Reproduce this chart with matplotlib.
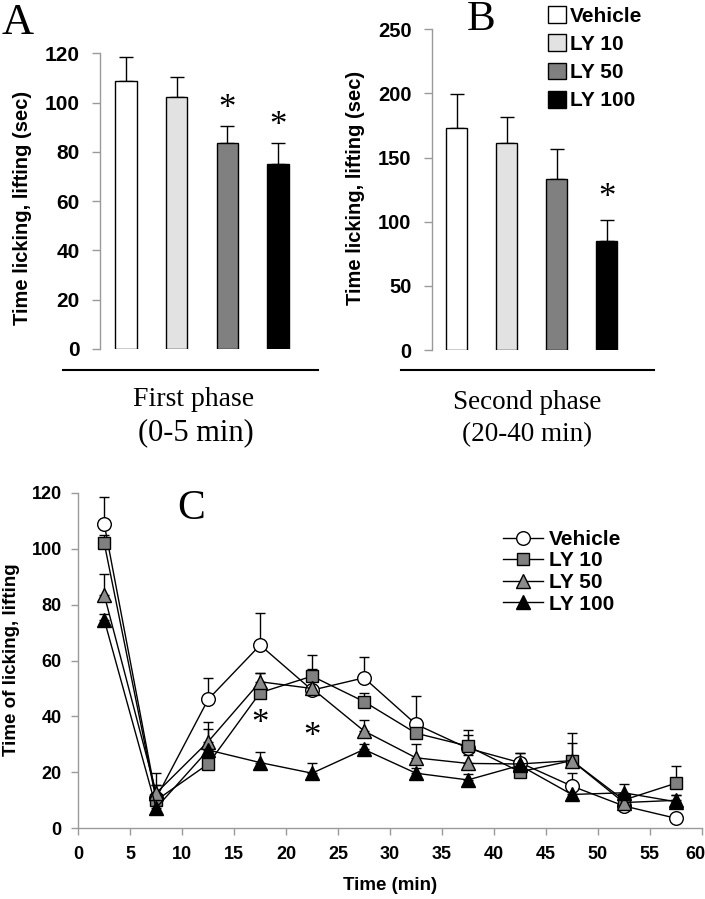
import numpy as np
import matplotlib
matplotlib.use("Agg")
import matplotlib.pyplot as plt
import matplotlib.transforms as mtransforms
from matplotlib.patches import Patch
from matplotlib.lines import Line2D

# ---------------- data ----------------
groups = ["Vehicle", "LY 10", "LY 50", "LY 100"]
bar_colors = ["#ffffff", "#e2e2e2", "#808080", "#000000"]

first_mean = [108.8, 102.1, 83.5, 75.1]
first_err = [9.6, 8.2, 7.1, 8.6]
first_sig = [False, False, True, True]

second_mean = [173.3, 161.6, 133.5, 84.7]
second_err = [26.0, 20.0, 22.9, 16.6]
second_sig = [False, False, False, True]

time = [2.5, 7.5, 12.5, 17.5, 22.5, 27.5, 32.5, 37.5, 42.5, 47.5, 52.5, 57.5]
vehicle = [108.7, 10.8, 46.1, 65.5, 49.4, 53.8, 37.2, 28.6, 23.5, 15.1, 8.0, 3.6]
vehicle_err = [9.9, 8.9, 7.5, 11.6, 7.6, 7.6, 10.2, 6.5, 3.5, 4.6, 2.0, 1.0]
ly10 = [101.9, 10.0, 23.0, 48.5, 54.4, 45.3, 34.0, 29.4, 20.2, 24.2, 10.1, 16.1]
ly10_err = [3.0, 5.5, 3.0, 7.0, 7.6, 3.0, 5.0, 4.0, 2.0, 10.0, 2.0, 6.2]
ly50 = [83.4, 12.6, 31.0, 52.4, 50.0, 34.8, 25.2, 23.2, 23.0, 24.2, 9.2, 10.0]
ly50_err = [7.5, 3.0, 4.4, 3.2, 3.0, 4.0, 4.8, 3.0, 2.0, 6.4, 2.0, 2.0]
ly100 = [74.5, 7.3, 28.0, 23.5, 19.7, 28.2, 19.7, 17.3, 22.5, 12.1, 12.7, 9.5]
ly100_err = [2.0, 2.0, 10.1, 3.9, 3.5, 2.0, 2.0, 2.0, 4.5, 2.0, 3.3, 2.5]
sig_times = [17.5, 22.5]
sig_y = [37.0, 32.4]

x_ticks = list(range(0, 61, 5))

# ---------------- style ----------------
SANS = ["Liberation Sans", "DejaVu Sans"]
SERIF = ["Liberation Serif", "DejaVu Serif"]
GRAY = "#9a9a9a"
STAR_FS = 25

W, H = 705, 899
fig = plt.figure(figsize=(W / 100, H / 100), dpi=100)


def rect(l, t, r, b):
    return [l / W, 1 - b / H, (r - l) / W, (b - t) / H]


def fpt(x, y):
    return x / W, 1 - y / H


def bar_panel(ax, means, errs, sig, ymax, ystep, tick_fs, sig_y_off):
    xs = np.arange(len(means))
    ax.bar(xs, means, width=0.42, color=bar_colors, edgecolor="black",
           linewidth=1.0, zorder=2)
    ax.errorbar(xs, means, yerr=[np.zeros(len(errs)), errs], fmt="none",
                ecolor="black", elinewidth=1.0, capsize=4.7, capthick=1.0,
                zorder=1)
    for xi, m, e, s in zip(xs, means, errs, sig):
        if s:
            ax.text(xi, m + e + sig_y_off, "*", ha="center", va="center",
                    fontsize=STAR_FS, family=SERIF)
    ax.set_ylim(0, ymax)
    ax.set_yticks(np.arange(0, ymax + 1, ystep))
    for s in ["top", "right", "bottom"]:
        ax.spines[s].set_visible(False)
    ax.spines["left"].set_color(GRAY)
    ax.spines["left"].set_linewidth(1.0)
    ax.set_xticks([])
    ax.tick_params(axis="y", color=GRAY, labelcolor="black", length=5.5,
                   width=1.0, pad=9, labelsize=tick_fs)
    for lab in ax.get_yticklabels():
        lab.set_fontfamily(SANS)
        lab.set_fontweight("bold")


# ---- Panel A ----
axA = fig.add_axes(rect(100, 53.3, 317, 349))
bar_panel(axA, first_mean, first_err, first_sig, 120, 20, 15, 6.5)
axA.set_xlim(-0.514, 3.77)

# ---- Panel B ----
axB = fig.add_axes(rect(431.7, 29.3, 653, 350))
bar_panel(axB, second_mean, second_err, second_sig, 250, 50, 14.5, 17)
axB.set_xlim(-0.499, 3.92)

# y labels for bar panels
fig.text(*fpt(23, 208), "Time licking, lifting (sec)", rotation=90,
         ha="center", va="center", fontsize=14.5, fontweight="bold",
         family=SANS)
fig.text(*fpt(356, 188), "Time licking, lifting (sec)", rotation=90,
         ha="center", va="center", fontsize=14.5, fontweight="bold",
         family=SANS)

# horizontal rules and phase captions
fig.add_artist(Line2D([62.5 / W, 317.5 / W], [1 - 370 / H, 1 - 370 / H],
                      color="black", linewidth=1.5))
fig.add_artist(Line2D([401 / W, 654 / W], [1 - 370 / H, 1 - 370 / H],
                      color="black", linewidth=1.5))
fig.text(*fpt(194, 400), "First phase", ha="center", va="center",
         fontsize=20, family=SERIF)
fig.text(*fpt(196, 433), "(0-5 min)", ha="center", va="center",
         fontsize=22, family=SERIF)
fig.text(*fpt(527, 402), "Second phase", ha="center", va="center",
         fontsize=19.5, family=SERIF)
fig.text(*fpt(527, 435), "(20-40 min)", ha="center", va="center",
         fontsize=19.5, family=SERIF)

# panel letters
fig.text(*fpt(18, 23), "A", ha="center", va="center", fontsize=32,
         family=SERIF)
fig.text(*fpt(481, 20), "B", ha="center", va="center", fontsize=31,
         family=SERIF)

# legend for bars
bar_handles = [Patch(facecolor=c, edgecolor="black", linewidth=1.0)
               for c in bar_colors]
fig.legend(bar_handles, groups, loc="upper left",
           bbox_to_anchor=(544 / W, 1 - 2 / H), frameon=False,
           prop={"family": SANS, "weight": "bold", "size": 15},
           handlelength=0.85, handleheight=0.85, handletextpad=0.2,
           labelspacing=0.42, borderpad=0.2, borderaxespad=0)

# ---- Panel C ----
axC = fig.add_axes(rect(78.3, 492.7, 701.7, 828.3))
series = [
    ("Vehicle", vehicle, vehicle_err, "o", "white", 9.8),
    ("LY 10", ly10, ly10_err, "s", "#808080", 8.6),
    ("LY 50", ly50, ly50_err, "^", "#8c8c8c", 9.6),
    ("LY 100", ly100, ly100_err, "^", "black", 9.6),
]
handles = []
for name, vals, errs, mk, fc, ms in series:
    axC.errorbar(time, vals, yerr=[np.zeros(len(errs)), errs], fmt="none",
                 ecolor="black", elinewidth=1.0, capsize=3.8, capthick=1.0,
                 zorder=1)
    h, = axC.plot(time, vals, color="black", linewidth=1.0, marker=mk,
                  markersize=ms, markerfacecolor=fc, markeredgecolor="black",
                  markeredgewidth=1.0, label=name, zorder=2)
    handles.append(h)
for tx, ty in zip(sig_times, sig_y):
    axC.text(tx, ty, "*", ha="center", va="center", fontsize=STAR_FS,
             family=SERIF)

axC.set_xlim(0, 60)
axC.set_ylim(0, 120)
axC.set_xticks(x_ticks)
axC.set_yticks(np.arange(0, 121, 20))
for s in ["top", "right"]:
    axC.spines[s].set_visible(False)
for s in ["left", "bottom"]:
    axC.spines[s].set_color(GRAY)
    axC.spines[s].set_linewidth(1.0)
axC.tick_params(axis="both", color=GRAY, labelcolor="black", length=5,
                width=1.0, labelsize=13)
axC.tick_params(axis="y", pad=7)
axC.tick_params(axis="x", pad=8)
for lab in axC.get_xticklabels() + axC.get_yticklabels():
    lab.set_fontfamily(SANS)
    lab.set_fontweight("bold")
# keep the last x tick label inside the canvas
last = axC.get_xticklabels()[-1]
last.set_transform(last.get_transform() +
                   mtransforms.ScaledTranslation(-6 / 100, 0,
                                                 fig.dpi_scale_trans))

fig.text(*fpt(12, 660), "Time of licking, lifting", rotation=90,
         ha="center", va="center", fontsize=13.5, fontweight="bold",
         family=SANS)
fig.text(*fpt(390, 886), "Time (min)", ha="center", va="center",
         fontsize=13.5, fontweight="bold", family=SANS)
fig.text(*fpt(191, 509), "C", ha="center", va="center", fontsize=30,
         family=SERIF)

fig.legend(handles, [s[0] for s in series], loc="upper left",
           bbox_to_anchor=(503 / W, 1 - 530 / H), frameon=False,
           prop={"family": SANS, "weight": "bold", "size": 15},
           handlelength=1.9, handletextpad=0.3, labelspacing=0.12,
           borderpad=0.0, borderaxespad=0)

fig.savefig("out.png", dpi=100)
